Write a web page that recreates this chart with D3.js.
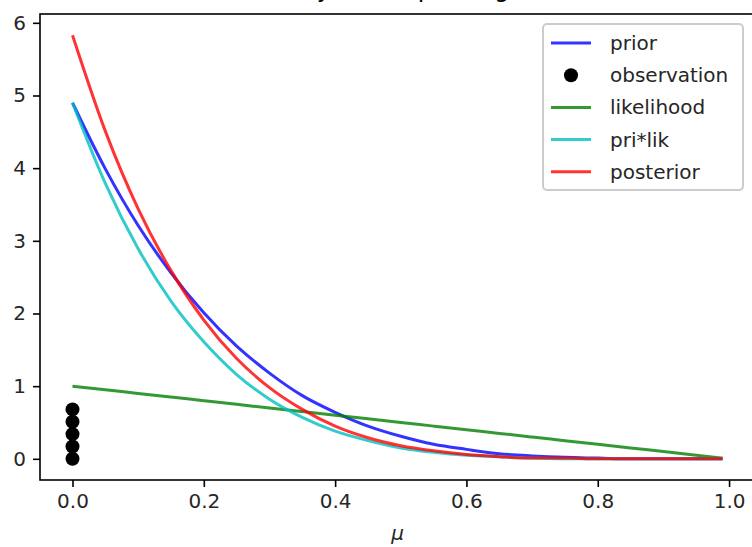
<!DOCTYPE html>
<html>
<head>
<meta charset="utf-8">
<script src="https://cdn.jsdelivr.net/npm/d3@7"></script>
<style>
  body { margin: 0; background: #fff; }
  svg { display: block; font-family: "DejaVu Sans", sans-serif; }
</style>
</head>
<body>
<div id="chart"></div>
<script>
// Values
const mu = [0, 0.05, 0.1, 0.15, 0.2, 0.25, 0.3, 0.35, 0.4, 0.45, 0.5,
            0.55, 0.6, 0.65, 0.7, 0.75, 0.8, 0.85, 0.9, 0.95, 0.99];
const prior = [4.90, 3.99, 3.21, 2.56, 2.01, 1.55, 1.18, 0.87, 0.64, 0.45, 0.31,
               0.20, 0.13, 0.07, 0.04, 0.02, 0.01, 0.00, 0.00, 0.00, 0.00];
const likelihood = [1.00, 0.95, 0.90, 0.85, 0.80, 0.75, 0.70, 0.65, 0.60, 0.55, 0.50,
                    0.45, 0.40, 0.35, 0.30, 0.25, 0.20, 0.15, 0.10, 0.05, 0.01];
const priLik = [4.90, 3.79, 2.89, 2.17, 1.61, 1.16, 0.82, 0.57, 0.38, 0.25, 0.15,
                0.09, 0.05, 0.03, 0.01, 0.00, 0.00, 0.00, 0.00, 0.00, 0.00];
const posterior = [5.83, 4.51, 3.44, 2.59, 1.91, 1.38, 0.98, 0.68, 0.45, 0.29, 0.18,
                   0.11, 0.06, 0.03, 0.01, 0.01, 0.00, 0.00, 0.00, 0.00, 0.00];
const obsX = [0, 0, 0, 0, 0];
const obsY = [0, 0.17, 0.34, 0.51, 0.68];
const xTicks = [0, 0.2, 0.4, 0.6, 0.8, 1.0];
const yTicks = [0, 1, 2, 3, 4, 5, 6];

const series = [
  {name: "prior", values: prior, color: "#0000ff"},
  {name: "observation"},
  {name: "likelihood", values: likelihood, color: "#008000"},
  {name: "pri*lik", values: priLik, color: "#00bfbf"},
  {name: "posterior", values: posterior, color: "#ff0000"}
];

const W = 752, H = 547;
const plot = {left: 40, right: 755, top: 14, bottom: 480};

const svg = d3.select("#chart").append("svg")
  .attr("width", W)
  .attr("height", H);

// matplotlib style 5% margins
const xMin = 0, xMax = d3.max(mu);
const yMin = 0, yMax = d3.max(posterior);
const xPad = (xMax - xMin) * 0.05, yPad = (yMax - yMin) * 0.05;

const x = d3.scaleLinear()
  .domain([xMin - xPad, xMax + xPad])
  .range([plot.left, plot.right]);

const y = d3.scaleLinear()
  .domain([yMin - yPad, yMax + yPad])
  .range([plot.bottom, plot.top]);

// Title (mostly above the visible area)
svg.append("text")
  .attr("x", (plot.left + plot.right) / 2)
  .attr("y", -3.5)
  .attr("text-anchor", "middle")
  .attr("font-size", "24px")
  .attr("fill", "#000")
  .text("Bayesian updating");

// Axes
const xAxis = svg.append("g")
  .attr("transform", `translate(0,${plot.bottom})`)
  .call(d3.axisBottom(x).tickValues(xTicks).tickFormat(d3.format(".1f"))
    .tickSizeInner(7).tickSizeOuter(0).tickPadding(7));

const yAxis = svg.append("g")
  .attr("transform", `translate(${plot.left},0)`)
  .call(d3.axisLeft(y).tickValues(yTicks).tickFormat(d3.format("d"))
    .tickSizeInner(7).tickSizeOuter(0).tickPadding(7));

[xAxis, yAxis].forEach(g => {
  g.select(".domain").remove();
  g.selectAll(".tick line").attr("stroke", "#000").attr("stroke-width", 1.6);
  g.selectAll(".tick text")
    .attr("font-size", "20px")
    .attr("font-family", "DejaVu Sans")
    .attr("fill", "#262626");
});

// Spines (right one falls outside the picture)
svg.append("rect")
  .attr("x", plot.left)
  .attr("y", plot.top)
  .attr("width", plot.right - plot.left)
  .attr("height", plot.bottom - plot.top)
  .attr("fill", "none")
  .attr("stroke", "#000")
  .attr("stroke-width", 1.6);

// x label
svg.append("text")
  .attr("x", (plot.left + plot.right) / 2)
  .attr("y", 540)
  .attr("text-anchor", "middle")
  .attr("font-size", "20px")
  .attr("font-style", "italic")
  .attr("fill", "#262626")
  .text("μ");

const line = d3.line()
  .x((d, i) => x(mu[i]))
  .y(d => y(d))
  .curve(d3.curveMonotoneX);

// Curves and observation dots, in drawing order
series.forEach(s => {
  if (s.values) {
    svg.append("path")
      .datum(s.values)
      .attr("d", line)
      .attr("fill", "none")
      .attr("stroke", s.color)
      .attr("stroke-opacity", 0.8)
      .attr("stroke-width", 3);
  } else {
    svg.selectAll(".obs")
      .data(obsY)
      .enter()
      .append("circle")
      .attr("class", "obs")
      .attr("cx", (d, i) => x(obsX[i]))
      .attr("cy", d => y(d))
      .attr("r", 7)
      .attr("fill", "#000");
  }
});

// Legend
const legend = svg.append("g");
legend.append("rect")
  .attr("x", 543)
  .attr("y", 24)
  .attr("width", 200)
  .attr("height", 166)
  .attr("rx", 4)
  .attr("fill", "#fff")
  .attr("fill-opacity", 0.8)
  .attr("stroke", "#cccccc")
  .attr("stroke-width", 2);

series.forEach((s, i) => {
  const cy = 43 + i * 32.2;
  if (s.values) {
    legend.append("line")
      .attr("x1", 551).attr("x2", 591)
      .attr("y1", cy).attr("y2", cy)
      .attr("stroke", s.color)
      .attr("stroke-opacity", 0.8)
      .attr("stroke-width", 3);
  } else {
    legend.append("circle")
      .attr("cx", 571).attr("cy", cy)
      .attr("r", 7)
      .attr("fill", "#000");
  }
  legend.append("text")
    .attr("x", 610)
    .attr("y", cy)
    .attr("dy", "0.35em")
    .attr("font-size", "20px")
    .attr("fill", "#262626")
    .text(s.name);
});
</script>
</body>
</html>
